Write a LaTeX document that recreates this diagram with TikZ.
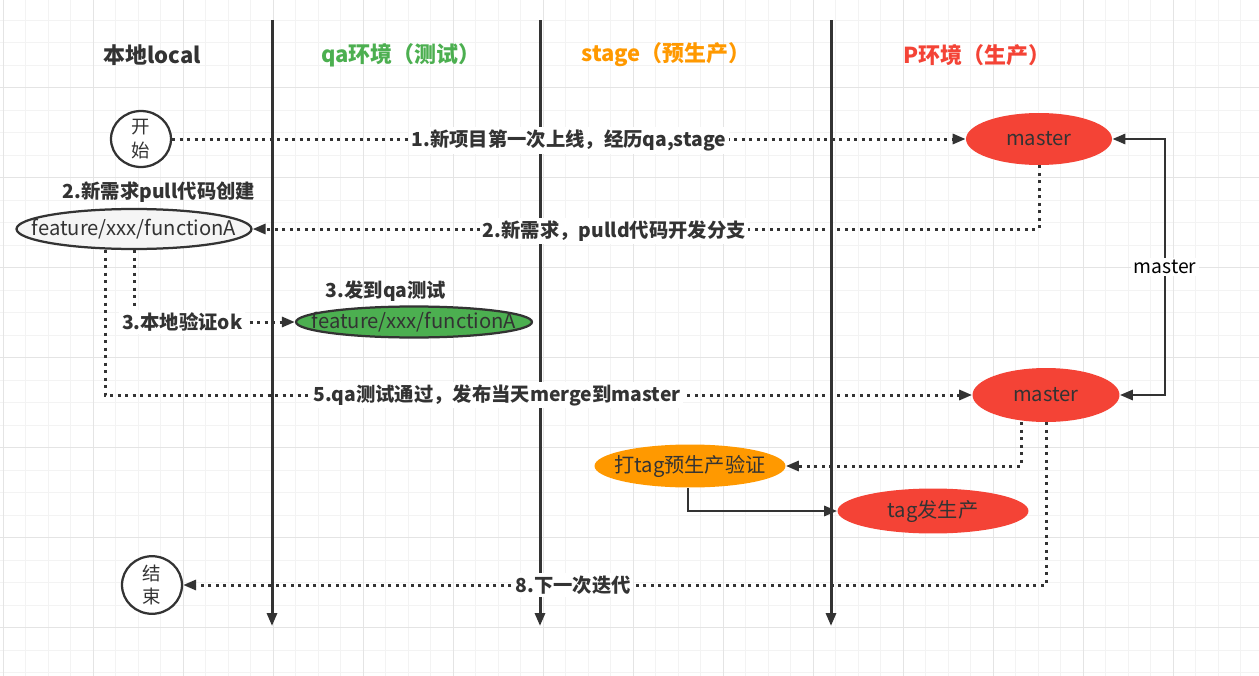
\documentclass[tikz,border=0pt]{standalone}
\usepackage{fontspec}
\setmainfont{Noto Sans CJK SC}
\usetikzlibrary{arrows.meta,shapes.geometric}
\definecolor{lineDark}{HTML}{333333}
\definecolor{prodRed}{HTML}{F44336}
\definecolor{stageOrange}{HTML}{FF9900}
\definecolor{qaGreen}{HTML}{4CAF50}
\definecolor{localGrey}{HTML}{F5F5F5}
\definecolor{gridFine}{HTML}{F3F3F3}
\definecolor{gridMajor}{HTML}{E4E4E4}
\newcommand{\zerowide}[1]{\makebox[0pt]{#1}}
\tikzset{
  tip/.tip={Triangle[length=0.26cm,width=0.2cm]},
  lane/.style={line width=0.06cm, draw=lineDark, -tip},
  dotline/.style={line width=0.06cm, draw=lineDark, dash pattern=on 0.06cm off 0.09cm, -tip},
  solidline/.style={line width=0.055cm, draw=lineDark},
  head/.style={font=\bfseries\fontsize{12.5}{15}\selectfont},
  steplabel/.style={fill=white, inner sep=1.5pt, text=lineDark, font=\bfseries\fontsize{11}{13}\selectfont},
  branch/.style={ellipse, inner sep=0pt, text=lineDark, font=\fontsize{11.5}{13}\selectfont},
  endpoint/.style={ellipse, draw=lineDark, line width=0.045cm, fill=white, inner sep=0pt,
    minimum width=1.2cm, minimum height=1.12cm, align=center, text=lineDark,
    font=\fontsize{10.5}{13.5}\selectfont}
}
\begin{document}
\begin{tikzpicture}[x=0.02cm, y=-0.02cm]
		%%%%% START %%%%%
		\useasboundingbox (0,0) rectangle (1259,676);
		\fill[white] (0,0) rectangle (1259,676);
		
		% grid
		\foreach \gx in {3,25.5,...,1259} \draw[gridFine, line width=0.4pt] (\gx,0) -- (\gx,676);
		\foreach \gy in {-2.5,20,...,676} \draw[gridFine, line width=0.4pt] (0,\gy) -- (1259,\gy);
		\foreach \gx in {3,93,...,1259} \draw[gridMajor, line width=0.5pt] (\gx,0) -- (\gx,676);
		\foreach \gy in {-3,87,...,676} \draw[gridMajor, line width=0.5pt] (0,\gy) -- (1259,\gy);
		
		% lanes
		\coordinate (qaTop) at (272,20);
		\coordinate (qaEnd) at (272,626);
		\coordinate (stageTop) at (540,20);
		\coordinate (stageEnd) at (540,626);
		\coordinate (prodTop) at (831,20);
		\coordinate (prodEnd) at (831,626);
		\draw[lane] (qaTop) -- (qaEnd);
		\draw[lane] (stageTop) -- (stageEnd);
		\draw[lane] (prodTop) -- (prodEnd);
		
		\node[head, text=lineDark] (hLocal) at (152,55) {本地local};
		\node[head, text=qaGreen] (hQa) at (401,55) {qa环境（测试）};
		\node[head, text=stageOrange] (hStage) at (666,55) {stage（预生产）};
		\node[head, text=prodRed] (hProd) at (977,55) {P环境（生产）};
		
		% nodes
		\node[endpoint] (start) at (141,139) {开\\始};
		\node[endpoint, minimum height=1.1cm] (finish) at (152,585) {结\\束};
		\node[branch, fill=prodRed, minimum width=2.92cm, minimum height=1.04cm] (master1) at (1039,139) {\zerowide{master}};
		\node[branch, fill=prodRed, minimum width=2.94cm, minimum height=1.08cm] (master2) at (1046,395) {\zerowide{master}};
		\node[branch, draw=lineDark, line width=0.045cm, fill=localGrey, minimum width=4.7cm, minimum height=0.8cm] (fLocal) at (134,229) {\zerowide{feature/xxx/functionA}};
		\node[branch, draw=lineDark, line width=0.045cm, fill=qaGreen, minimum width=4.72cm, minimum height=0.62cm] (fQa) at (414,322) {\zerowide{feature/xxx/functionA}};
		\node[branch, fill=stageOrange, minimum width=3.82cm, minimum height=0.86cm] (tagPre) at (690,466) {\zerowide{打tag预生产验证}};
		\node[branch, fill=prodRed, minimum width=3.82cm, minimum height=0.9cm] (tagProd) at (933,511) {\zerowide{tag发生产}};
		
		\node[steplabel, fill=none] (lCreate) at (159,192) {2.新需求pull代码创建};
		\node[steplabel, fill=none] (lToQa) at (386,291) {3.发到qa测试};
		
		% connectors
		\draw[dotline] (start) -- node[steplabel, yshift=-1pt] {1.新项目第一次上线，经历qa,stage} (master1);
		\draw[dotline] (master1.south) |- node[steplabel, pos=0.77, yshift=-1pt] {2.新需求，pulld代码开发分支} (fLocal.east);
		\draw[dotline] (fLocal.south) |- node[steplabel, pos=0.65] {3.本地验证ok} (fQa.west);
		\draw[dotline] ([xshift=-0.58cm]fLocal.south) |- node[steplabel, pos=0.726] {5.qa测试通过，发布当天merge到master} (master2.west);
		\draw[dotline] ([xshift=-0.5cm]master2.south) |- (tagPre.east);
		\draw[solidline, -tip] ([xshift=-0.04cm]tagPre.south) |- (tagProd.west);
		\draw[dotline] (master2.south) |- node[steplabel, pos=0.774] {8.下一次迭代} (finish.east);
		
		\coordinate (mTurn) at (1165,139);
		\draw[solidline, tip-tip] (master1.east) -- (mTurn) |- node[pos=0.25, fill=white, inner sep=1.5pt, text=black, font=\fontsize{11}{13}\selectfont] {master} (master2.east);
		%%%%% END %%%%%
\end{tikzpicture}
\end{document}
